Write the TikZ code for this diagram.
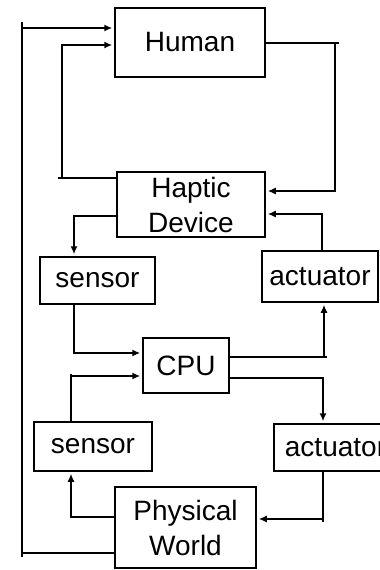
\documentclass[tikz,border=0pt]{standalone}
\usepackage{fontspec}
\setmainfont{Liberation Sans}
\usetikzlibrary{arrows.meta}
\begin{document}
\begin{tikzpicture}[x=1pt,y=-1pt,
  box/.style={draw, line width=1.5pt, inner sep=0pt, align=center,
    font=\fontsize{28}{35}\selectfont},
  arr/.style={line width=1.5pt, -{Latex[length=8pt,width=7pt]}, shorten >=2pt},
  ln/.style={line width=1.5pt}]
\useasboundingbox (0,0) rectangle (380,570);
\clip (0,0) rectangle (380,570);
\node[box, minimum width=150pt, minimum height=69pt] (human) at (190,42.5) {Human};
\node[box, minimum width=148pt, minimum height=65pt] (haptic) at (191,204.5) {Haptic\\Device};
\node[box, minimum width=115pt, minimum height=47pt] (sensorA) at (97.5,280.5) {sensor};
\node[box, minimum width=116pt, minimum height=51pt] (actA) at (320,276.5) {actuator};
\node[box, minimum width=86pt, minimum height=55pt] (cpu) at (186,365.5) {CPU};
\node[box, minimum width=118pt, minimum height=49pt] (sensorB) at (93,446.5) {sensor};
\node[box, minimum width=123pt, minimum height=47pt] (actB) at (335.5,447.5) {actuator};
\node[box, minimum width=141pt, minimum height=81pt] (pw) at (185.5,527.5) {Physical\\World};
% outer loop
\draw[arr] (pw.west |- 0,553) -- (22,553) -- (22,28) -- (human.west |- 0,28);
\draw[ln] (22,553) -- (22,557) (22,28) -- (22,22);
% haptic -> human
\draw[arr] (haptic.west |- 0,178) -- (62,178) -- (62,45) -- (human.west |- 0,45);
\draw[ln] (62,178) -- (58,178);
% human -> haptic
\draw[arr] (human.east |- 0,43) -- (335,43) -- (335,191) -- (haptic.east |- 0,191);
\draw[ln] (335,43) -- (339,43);
% actuator A -> haptic
\draw[arr] (actA.north -| 322,0) -- (322,214) -- (haptic.east |- 0,214);
% haptic -> sensor A
\draw[arr] (haptic.west |- 0,216) -- (74,216) -- (sensorA.north -| 74,0);
% sensor A -> cpu
\draw[arr] (sensorA.south -| 74,0) -- (74,353) -- (cpu.west |- 0,353);
% cpu -> actuator A
\draw[arr] (cpu.east |- 0,357) -- (324,357) -- (actA.south -| 324,0);
\draw[ln] (324,357) -- (327,357);
% cpu -> actuator B
\draw[arr] (cpu.east |- 0,378) -- (323,378) -- (actB.north -| 323,0);
% sensor B -> cpu
\draw[arr] (sensorB.north -| 71,0) -- (71,376) -- (cpu.west |- 0,376);
\draw[ln] (71,376) -- (71,374);
% world -> sensor B
\draw[arr] (pw.west |- 0,517) -- (71,517) -- (sensorB.south -| 71,0);
% actuator B -> world
\draw[arr] (actB.south -| 323,0) -- (323,519) -- (pw.east |- 0,519);
\draw[ln] (323,519) -- (323,522);
\end{tikzpicture}
\end{document}
